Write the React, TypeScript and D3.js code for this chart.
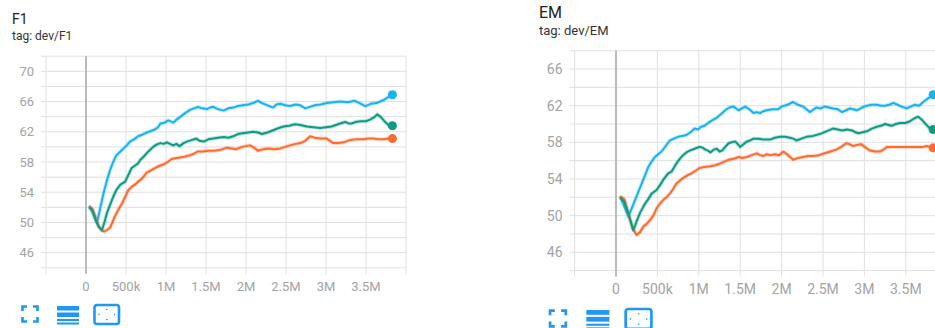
import * as d3 from 'd3';

type Pt = [number, number]; // [step in millions, value]

// ---- F1 (dev/F1) ----
const f1Cyan: Pt[] = [[0.04,52.2],[0.09,51.2],[0.14,50.1],[0.18,52.0],[0.22,53.9],[0.26,55.5],[0.3,56.9],[0.34,58.0],[0.38,58.9],[0.43,59.4],[0.47,59.8],[0.51,60.2],[0.55,60.7],[0.6,61.0],[0.65,61.4],[0.7,61.6],[0.76,61.9],[0.81,62.1],[0.86,62.3],[0.9,62.6],[0.93,63.1],[0.98,63.2],[1.03,63.5],[1.09,63.2],[1.13,63.6],[1.17,63.9],[1.23,64.4],[1.3,64.9],[1.35,65.1],[1.4,65.3],[1.45,65.1],[1.51,65.0],[1.55,65.2],[1.59,65.3],[1.65,65.0],[1.72,64.8],[1.78,65.1],[1.84,65.2],[1.9,65.4],[1.96,65.5],[2.03,65.6],[2.09,65.8],[2.15,66.1],[2.2,65.8],[2.27,65.5],[2.34,65.2],[2.38,65.6],[2.43,65.7],[2.49,65.5],[2.55,65.4],[2.62,65.6],[2.68,65.5],[2.74,65.1],[2.8,65.3],[2.86,65.5],[2.93,65.6],[3.01,65.8],[3.09,65.9],[3.18,66.0],[3.27,65.9],[3.36,66.1],[3.42,65.8],[3.49,65.4],[3.56,65.7],[3.63,65.8],[3.72,66.2],[3.78,66.6],[3.83,66.9]];
const f1Teal: Pt[] = [[0.04,52.0],[0.08,51.6],[0.12,50.3],[0.16,49.4],[0.2,49.0],[0.23,50.0],[0.26,51.2],[0.3,52.3],[0.34,53.4],[0.38,54.3],[0.43,55.0],[0.46,55.2],[0.49,55.4],[0.53,56.3],[0.57,57.2],[0.61,57.5],[0.65,57.8],[0.68,58.3],[0.72,58.7],[0.78,59.4],[0.84,60.0],[0.88,60.3],[0.93,60.5],[0.97,60.4],[1.01,60.6],[1.05,60.4],[1.09,60.2],[1.13,60.4],[1.17,60.1],[1.22,60.5],[1.26,60.7],[1.32,60.9],[1.38,61.1],[1.42,60.8],[1.47,60.7],[1.53,61.0],[1.59,61.1],[1.65,61.2],[1.72,61.3],[1.78,61.2],[1.84,61.4],[1.9,61.7],[1.96,61.8],[2.03,61.9],[2.09,62.0],[2.15,61.9],[2.2,61.7],[2.27,61.9],[2.34,62.2],[2.41,62.5],[2.47,62.7],[2.54,62.8],[2.61,63.0],[2.68,62.9],[2.76,62.7],[2.84,62.6],[2.93,62.5],[3.0,62.6],[3.07,62.7],[3.15,63.0],[3.24,63.3],[3.28,63.1],[3.32,63.1],[3.37,63.3],[3.43,63.4],[3.5,63.4],[3.55,63.6],[3.6,63.9],[3.64,64.3],[3.68,64.0],[3.73,63.4],[3.78,62.9],[3.83,62.8]];
const f1Orange: Pt[] = [[0.04,52.1],[0.08,51.8],[0.12,50.6],[0.16,49.5],[0.2,48.9],[0.23,48.8],[0.26,49.0],[0.3,49.3],[0.33,50.0],[0.36,50.8],[0.4,51.6],[0.45,52.5],[0.49,53.4],[0.53,54.3],[0.57,54.7],[0.61,55.0],[0.65,55.4],[0.7,55.8],[0.76,56.6],[0.81,56.9],[0.86,57.2],[0.92,57.5],[0.97,57.7],[1.02,58.0],[1.07,58.4],[1.12,58.5],[1.17,58.6],[1.23,58.7],[1.3,58.9],[1.35,59.1],[1.4,59.4],[1.46,59.4],[1.53,59.5],[1.6,59.5],[1.68,59.6],[1.76,59.9],[1.82,59.8],[1.88,59.7],[1.95,60.0],[2.0,60.1],[2.05,60.2],[2.1,59.9],[2.15,59.5],[2.22,59.7],[2.28,59.8],[2.35,59.7],[2.43,59.8],[2.49,60.0],[2.55,60.2],[2.62,60.4],[2.68,60.5],[2.74,60.8],[2.8,61.4],[2.86,61.2],[2.93,61.1],[3.01,61.1],[3.05,60.8],[3.09,60.5],[3.15,60.5],[3.22,60.6],[3.3,60.9],[3.38,61.0],[3.47,61.0],[3.53,61.1],[3.59,61.1],[3.66,61.0],[3.72,61.0],[3.78,61.1],[3.83,61.1]];

// ---- EM (dev/EM) ----
const emCyan: Pt[] = [[0.05,52.1],[0.1,51.0],[0.15,49.9],[0.19,50.8],[0.23,51.7],[0.27,52.6],[0.31,53.5],[0.35,54.4],[0.39,55.3],[0.43,55.9],[0.47,56.4],[0.51,56.7],[0.55,57.0],[0.6,57.6],[0.65,58.2],[0.7,58.4],[0.75,58.6],[0.8,58.7],[0.85,58.8],[0.9,59.1],[0.95,59.5],[0.99,59.4],[1.03,59.7],[1.07,59.8],[1.11,60.1],[1.16,60.4],[1.22,60.7],[1.27,61.1],[1.32,61.5],[1.37,61.8],[1.42,61.9],[1.48,61.5],[1.52,61.7],[1.56,61.9],[1.61,61.6],[1.66,61.2],[1.7,61.3],[1.74,61.2],[1.78,61.4],[1.82,61.5],[1.89,61.6],[1.96,61.6],[2.0,61.9],[2.07,62.1],[2.14,62.4],[2.2,62.1],[2.26,61.9],[2.3,61.6],[2.34,61.3],[2.42,61.8],[2.47,61.7],[2.52,61.9],[2.57,61.8],[2.62,61.7],[2.68,61.6],[2.73,61.3],[2.78,61.5],[2.83,61.7],[2.91,61.5],[2.97,61.8],[3.03,62.0],[3.09,62.1],[3.15,62.1],[3.2,62.0],[3.25,62.0],[3.3,62.1],[3.35,62.3],[3.4,62.1],[3.45,61.9],[3.51,61.7],[3.56,61.9],[3.61,62.1],[3.66,62.0],[3.71,62.4],[3.77,62.8],[3.83,63.2]];
const emTeal: Pt[] = [[0.05,52.0],[0.1,51.5],[0.15,50.2],[0.21,48.4],[0.25,49.4],[0.29,50.3],[0.35,51.3],[0.39,51.8],[0.43,52.4],[0.49,52.8],[0.53,53.3],[0.57,53.9],[0.63,54.6],[0.67,54.8],[0.73,55.7],[0.77,56.2],[0.81,56.6],[0.85,56.9],[0.89,57.1],[0.95,57.3],[1.01,57.5],[1.05,57.4],[1.08,57.2],[1.11,57.1],[1.14,56.9],[1.18,57.2],[1.22,57.3],[1.25,57.0],[1.28,57.1],[1.32,57.5],[1.36,57.9],[1.4,58.0],[1.44,58.1],[1.47,57.8],[1.5,57.5],[1.54,57.8],[1.58,58.1],[1.62,58.2],[1.66,58.4],[1.72,58.4],[1.78,58.3],[1.86,58.3],[1.92,58.5],[1.98,58.6],[2.04,58.6],[2.1,58.5],[2.14,58.4],[2.18,58.2],[2.24,58.4],[2.3,58.6],[2.38,58.7],[2.46,58.9],[2.54,59.2],[2.62,59.5],[2.68,59.4],[2.73,59.3],[2.79,59.4],[2.85,59.3],[2.89,59.1],[2.93,59.0],[2.98,59.1],[3.03,59.2],[3.09,59.5],[3.15,59.7],[3.2,59.8],[3.25,60.0],[3.29,59.9],[3.33,59.8],[3.38,60.0],[3.43,60.1],[3.49,60.1],[3.55,60.3],[3.6,60.6],[3.65,60.8],[3.69,60.5],[3.73,60.1],[3.78,59.6],[3.83,59.4]];
const emOrange: Pt[] = [[0.05,52.1],[0.1,51.8],[0.15,50.2],[0.2,48.6],[0.25,47.9],[0.29,48.2],[0.33,48.8],[0.37,49.1],[0.41,49.5],[0.45,50.0],[0.49,50.8],[0.53,51.3],[0.57,51.7],[0.61,52.0],[0.65,52.4],[0.69,52.9],[0.73,53.5],[0.77,53.8],[0.81,54.1],[0.86,54.4],[0.91,54.6],[0.96,54.9],[1.01,55.2],[1.07,55.3],[1.14,55.4],[1.2,55.5],[1.26,55.7],[1.31,55.9],[1.36,56.1],[1.42,56.2],[1.48,56.4],[1.53,56.3],[1.58,56.4],[1.64,56.6],[1.7,56.8],[1.74,56.6],[1.78,56.5],[1.82,56.7],[1.86,56.6],[1.92,56.7],[1.97,56.6],[2.02,57.0],[2.08,56.6],[2.14,56.1],[2.2,56.3],[2.26,56.4],[2.32,56.5],[2.38,56.5],[2.45,56.6],[2.52,56.8],[2.59,57.0],[2.66,57.2],[2.72,57.5],[2.78,57.9],[2.82,57.8],[2.86,57.6],[2.91,57.7],[2.96,57.8],[3.02,57.4],[3.07,57.1],[3.13,57.0],[3.19,57.0],[3.23,57.2],[3.27,57.5],[3.33,57.5],[3.39,57.5],[3.47,57.5],[3.55,57.5],[3.62,57.5],[3.67,57.5],[3.71,57.5],[3.75,57.6],[3.79,57.5],[3.83,57.4]];

const xTickValues = [0, 0.5, 1, 1.5, 2, 2.5, 3, 3.5];
const xTickLabels = ['0', '500k', '1M', '1.5M', '2M', '2.5M', '3M', '3.5M'];
const f1YTicks = [46, 50, 54, 58, 62, 66, 70];
const emYTicks = [46, 50, 54, 58, 62, 66];

const CYAN = '#17b3f0';
const TEAL = '#0f9a82';
const ORANGE = '#ff6a2e';
const BLUE = '#2196f3';

type ChartProps = {
  title: string;
  tag: string;
  series: { data: Pt[]; color: string }[];
  yDomain: [number, number];
  yTicks: number[];
  titleX: number;
  titleY: number;
  titleSize: number;
  tagY: number;
  tagSize: number;
  plot: { left: number; right: number; top: number; bottom: number };
  labelSize: number;
  xLabelY: number;
  icons: { x: number; y: number; s: number };
  clipId: string;
};

function Icons({ x, y, s }: { x: number; y: number; s: number }) {
  return (
    <g transform={`translate(${x},${y}) scale(${s})`} fill="none" stroke={BLUE} strokeWidth={2.6}>
      <path d="M1.5,6 V1.5 H6 M12,1.5 H16.5 V6 M16.5,12 V16.5 H12 M6,16.5 H1.5 V12" />
      <g stroke="none" fill={BLUE}>
        <rect x={36} y={1} width={22} height={4.5} />
        <rect x={36} y={7.5} width={22} height={4.5} />
        <rect x={36} y={14} width={22} height={2} />
        <rect x={36} y={17.5} width={22} height={2} />
      </g>
      <rect x={73.5} y={0} width={24.5} height={19} rx={2.5} />
      <g stroke="none" fill={BLUE}>
        <path d="M84.5,5 L85.75,3.5 L87,5 Z" />
        <path d="M84.5,14 L85.75,15.5 L87,14 Z" />
        <path d="M78.5,8.25 L77,9.5 L78.5,10.75 Z" />
        <path d="M93,8.25 L94.5,9.5 L93,10.75 Z" />
      </g>
    </g>
  );
}

function Chart(p: ChartProps) {
  const x = d3.scaleLinear().domain([-0.5, 4]).range([p.plot.left, p.plot.right]);
  const y = d3.scaleLinear().domain(p.yDomain).range([p.plot.bottom, p.plot.top]);
  const line = d3
    .line<Pt>()
    .x(d => x(d[0]))
    .y(d => y(d[1]));
  const gridY = d3.range(p.yDomain[0], p.yDomain[1] + 0.001, 2);
  const gridX = d3.range(-0.5, 4.001, 0.5);
  const font = 'Roboto, "Noto Sans", sans-serif';

  return (
    <g fontFamily={font}>
      <text x={p.titleX} y={p.titleY} fontSize={p.titleSize} fill="#212121">{p.title}</text>
      <text x={p.titleX} y={p.tagY} fontSize={p.tagSize} fill="#333">{p.tag}</text>

      <g stroke="#e0e0e0" strokeWidth={1}>
        {gridY.map(v => (
          <line key={'h' + v} x1={p.plot.left - 5} x2={p.plot.right} y1={y(v)} y2={y(v)} />
        ))}
        {gridX.map(v => (
          <line key={'v' + v} x1={x(v)} x2={x(v)} y1={p.plot.top} y2={p.plot.bottom + 6} />
        ))}
      </g>
      <line x1={x(0)} x2={x(0)} y1={p.plot.top} y2={p.plot.bottom + 6} stroke="#aaa" strokeWidth={1.5} />

      {p.yTicks.map(v => (
        <text key={'yl' + v} x={p.plot.left - 12} y={y(v)} dy="0.35em" textAnchor="end" fontSize={p.labelSize} fill="#a3a3a3">
          {v}
        </text>
      ))}
      {xTickValues.map((v, i) => (
        <text key={'xl' + v} x={x(v)} y={p.xLabelY} textAnchor="middle" fontSize={p.labelSize} fill="#a3a3a3">
          {xTickLabels[i]}
        </text>
      ))}

      <defs>
        <clipPath id={p.clipId}>
          <rect x={p.plot.left} y={p.plot.top} width={p.plot.right - p.plot.left} height={p.plot.bottom - p.plot.top} />
        </clipPath>
      </defs>
      <g clipPath={`url(#${p.clipId})`}>
        {p.series.map((s, i) => (
          <g key={i}>
            <path d={line(s.data) ?? ''} fill="none" stroke={s.color} strokeOpacity={0.25} strokeWidth={4} strokeLinejoin="round" />
            <path d={line(s.data) ?? ''} fill="none" stroke={s.color} strokeWidth={2} strokeLinejoin="round" />
          </g>
        ))}
        {p.series.map((s, i) => {
          const last = s.data[s.data.length - 1];
          return <circle key={'c' + i} cx={x(last[0])} cy={y(last[1])} r={4.5} fill={s.color} />;
        })}
      </g>

      <Icons {...p.icons} />
    </g>
  );
}

export default function App() {
  return (
    <div style={{ position: 'absolute', left: 0, top: 0 }}>
      <svg width={935} height={328} style={{ display: 'block', background: '#fff' }}>
        <Chart
          title="F1"
          tag="tag: dev/F1"
          series={[
            { data: f1Cyan, color: CYAN },
            { data: f1Orange, color: ORANGE },
            { data: f1Teal, color: TEAL },
          ]}
          yDomain={[44, 72]}
          yTicks={f1YTicks}
          titleX={12}
          titleY={24}
          titleSize={14}
          tagY={40}
          tagSize={12}
          plot={{ left: 46, right: 406, top: 56.2, bottom: 267.8 }}
          labelSize={13}
          xLabelY={290.5}
          icons={{ x: 21, y: 305, s: 1 }}
          clipId="clip-f1"
        />
        <Chart
          title="EM"
          tag="tag: dev/EM"
          series={[
            { data: emCyan, color: CYAN },
            { data: emOrange, color: ORANGE },
            { data: emTeal, color: TEAL },
          ]}
          yDomain={[44, 68]}
          yTicks={emYTicks}
          titleX={539}
          titleY={18}
          titleSize={16}
          tagY={35}
          tagSize={13}
          plot={{ left: 574.6, right: 947.2, top: 50.7, bottom: 270.6 }}
          labelSize={14}
          xLabelY={294}
          icons={{ x: 548.5, y: 309, s: 1.05 }}
          clipId="clip-em"
        />
      </svg>
    </div>
  );
}
